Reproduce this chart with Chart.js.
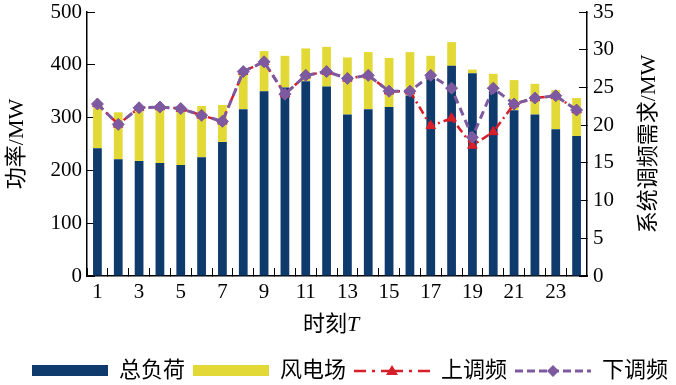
<!DOCTYPE html>
<html>
<head>
<meta charset="utf-8">
<script src="https://cdn.jsdelivr.net/npm/chart.js@4.4.0/dist/chart.umd.min.js"></script>
<style>
  html, body { margin: 0; padding: 0; background: #fff; overflow: hidden; }
  #wrap { width: 676px; height: 385px; }
</style>
</head>
<body>
<div id="wrap"><canvas id="chart" width="676" height="385"></canvas></div>
<script>
// data
const hours = ['1', '2', '3', '4', '5', '6', '7', '8', '9', '10', '11', '12',
               '13', '14', '15', '16', '17', '18', '19', '20', '21', '22', '23', '24'];
const totalLoad = [242, 221, 218, 214, 210, 225, 254, 316, 350, 357, 369, 359,
                   306, 316, 320, 342, 374, 398, 384, 350, 314, 306, 278, 265];
const windFarm = [76, 89, 94, 100, 101, 97, 70, 67, 76, 60, 62, 75,
                  108, 108, 93, 82, 43, 45, 7, 33, 57, 58, 74, 72];
const upRegulation = [22.8, 20.1, 22.3, 22.4, 22.2, 21.3, 20.5, 27.1, 28.4, 24.1, 26.6, 27.1,
                      26.2, 26.6, 24.5, 24.5, 19.9, 20.9, 17.3, 19.1, 22.8, 23.6, 23.9, 22.0];
const downRegulation = [22.8, 20.1, 22.3, 22.4, 22.2, 21.3, 20.5, 27.1, 28.4, 24.1, 26.6, 27.1,
                        26.2, 26.6, 24.5, 24.5, 26.6, 24.9, 18.4, 24.9, 22.8, 23.6, 23.9, 22.0];

const fontFamily = "'Liberation Serif', 'Noto Sans CJK SC', serif";
const blue = '#0f3a6c';
const yellow = '#e3d936';
const red = '#d81e28';
const purple = '#7d5aa0';

// legend icons drawn on small canvases
function makeIcon(draw) {
    const c = document.createElement('canvas');
    c.width = 76;
    c.height = 14;
    draw(c.getContext('2d'));
    return c;
}
const icons = [
    makeIcon(ctx => { ctx.fillStyle = blue; ctx.fillRect(0, 1, 76, 11); }),
    makeIcon(ctx => { ctx.fillStyle = yellow; ctx.fillRect(0, 1, 76, 11); }),
    makeIcon(ctx => {
        ctx.strokeStyle = red;
        ctx.lineWidth = 2.5;
        ctx.setLineDash([12, 6, 3, 6]);
        ctx.beginPath(); ctx.moveTo(0, 7); ctx.lineTo(38, 7); ctx.stroke();
        ctx.beginPath(); ctx.moveTo(76, 7); ctx.lineTo(38, 7); ctx.stroke();
        ctx.fillStyle = red;
        ctx.beginPath(); ctx.moveTo(38, 1); ctx.lineTo(44, 11); ctx.lineTo(32, 11); ctx.closePath(); ctx.fill();
    }),
    makeIcon(ctx => {
        ctx.strokeStyle = purple;
        ctx.lineWidth = 3;
        ctx.setLineDash([8, 4]);
        ctx.beginPath(); ctx.moveTo(0, 7); ctx.lineTo(76, 7); ctx.stroke();
        ctx.fillStyle = purple;
        ctx.beginPath(); ctx.moveTo(38, 1); ctx.lineTo(44, 7); ctx.lineTo(38, 13); ctx.lineTo(32, 7); ctx.closePath(); ctx.fill();
    })
];

// axis titles (right one reads bottom-to-top like the left one, x title has italic T)
const axisTitles = {
    id: 'axisTitles',
    afterDraw(chart) {
        const { ctx, chartArea, scales } = chart;
        const midY = (chartArea.top + chartArea.bottom) / 2;
        ctx.save();
        ctx.fillStyle = '#000';
        ctx.textBaseline = 'middle';
        ctx.textAlign = 'center';
        ctx.font = '22px ' + fontFamily;

        ctx.save();
        ctx.translate(scales.y.left + 17, midY);
        ctx.rotate(-Math.PI / 2);
        ctx.fillText('功率/MW', 0, 0);
        ctx.restore();

        ctx.save();
        ctx.translate(scales.y1.right - 27, midY);
        ctx.rotate(-Math.PI / 2);
        ctx.fillText('系统调频需求/MW', 0, 0);
        ctx.restore();

        const head = '时刻';
        const wHead = ctx.measureText(head).width;
        ctx.font = 'italic 22px ' + fontFamily;
        const wT = ctx.measureText('T').width;
        const x0 = (chartArea.left + chartArea.right) / 2 - (wHead + wT) / 2 - 6;
        const ty = chartArea.bottom + 49;
        ctx.textAlign = 'left';
        ctx.font = '22px ' + fontFamily;
        ctx.fillText(head, x0, ty);
        ctx.font = 'italic 22px ' + fontFamily;
        ctx.fillText('T', x0 + wHead, ty);
        ctx.restore();
    }
};

// nudge the legend a bit lower
const legendShift = {
    id: 'legendShift',
    afterLayout(chart) {
        chart.legend.top += 7;
        chart.legend.bottom += 7;
    }
};

const inwardGrid = {
    display: true,
    drawOnChartArea: false,
    drawTicks: true,
    tickLength: -8,
    color: '#000',
    lineWidth: 1
};
const axisBorder = { display: true, color: '#000', width: 1.5 };

new Chart(document.getElementById('chart'), {
    type: 'bar',
    data: {
        labels: hours,
        datasets: [
            {
                label: '总负荷',
                data: totalLoad,
                backgroundColor: blue,
                yAxisID: 'y',
                stack: 'p',
                order: 2
            },
            {
                label: '风电场',
                data: windFarm,
                backgroundColor: yellow,
                yAxisID: 'y',
                stack: 'p',
                order: 3
            },
            {
                type: 'line',
                label: '上调频',
                data: upRegulation,
                yAxisID: 'y1',
                borderColor: red,
                backgroundColor: red,
                borderWidth: 2.5,
                borderDash: [8, 4, 2, 4],
                pointStyle: 'triangle',
                pointRadius: 5.5,
                pointBorderWidth: 1,
                tension: 0,
                order: 1
            },
            {
                type: 'line',
                label: '下调频',
                data: downRegulation,
                yAxisID: 'y1',
                borderColor: purple,
                backgroundColor: purple,
                borderWidth: 3,
                borderDash: [8, 5],
                pointStyle: 'rectRot',
                pointRadius: 6,
                pointBorderWidth: 1,
                tension: 0,
                order: 0
            }
        ]
    },
    options: {
        responsive: false,
        animation: false,
        layout: { padding: 0 },
        datasets: {
            bar: { categoryPercentage: 1, barPercentage: 0.42 }
        },
        plugins: {
            tooltip: { enabled: false },
            legend: {
                position: 'bottom',
                align: 'end',
                labels: {
                    usePointStyle: true,
                    pointStyleWidth: 76,
                    boxHeight: 12,
                    padding: 8,
                    color: '#000',
                    font: { family: fontFamily, size: 22 },
                    generateLabels: function(chart) {
                        return chart.data.datasets.map(function(ds, i) {
                            return {
                                text: ds.label,
                                pointStyle: icons[i],
                                datasetIndex: i,
                                hidden: false,
                                lineWidth: 0,
                                fontColor: '#000'
                            };
                        });
                    }
                }
            }
        },
        scales: {
            x: {
                stacked: true,
                grid: inwardGrid,
                border: axisBorder,
                ticks: {
                    autoSkip: false,
                    maxRotation: 0,
                    padding: 12,
                    color: '#000',
                    font: { family: fontFamily, size: 21 },
                    callback: function(value, index) {
                        return index % 2 === 0 ? hours[index] : '';
                    }
                },
                afterFit: function(scale) { scale.height = 69; }
            },
            y: {
                stacked: true,
                position: 'left',
                min: 0,
                max: 500,
                grid: inwardGrid,
                border: axisBorder,
                ticks: {
                    stepSize: 100,
                    padding: 13,
                    color: '#000',
                    font: { family: fontFamily, size: 21 }
                },
                afterFit: function(scale) {
                    scale.width = 87;
                    scale.paddingTop = 12;
                    scale.paddingBottom = 12;
                }
            },
            y1: {
                position: 'right',
                min: 0,
                max: 35,
                grid: inwardGrid,
                border: axisBorder,
                ticks: {
                    stepSize: 5,
                    padding: 14,
                    color: '#000',
                    font: { family: fontFamily, size: 21 }
                },
                afterFit: function(scale) {
                    scale.width = 89;
                    scale.paddingTop = 12;
                    scale.paddingBottom = 12;
                }
            }
        }
    },
    plugins: [axisTitles, legendShift]
});
</script>
</body>
</html>
